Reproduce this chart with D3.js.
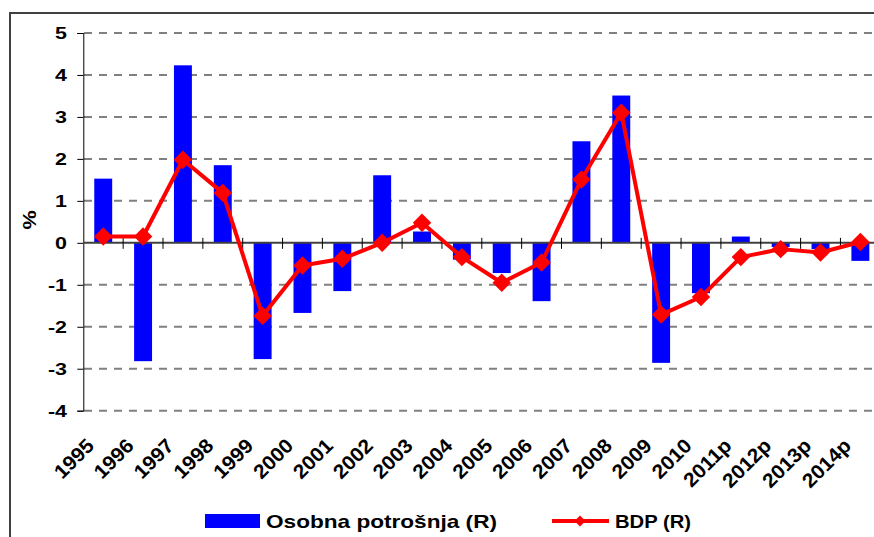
<!DOCTYPE html>
<html>
<head>
<meta charset="utf-8">
<script src="https://cdn.jsdelivr.net/npm/d3@7"></script>
<style>
  body { margin: 0; background: #fff; }
  text { font-family: "Liberation Sans", Arial, sans-serif; font-weight: bold; fill: #000; }
</style>
</head>
<body>
<svg width="874" height="537"></svg>
<script>
// Podaci (procjena iz slike)
const godine = ["1995", "1996", "1997", "1998", "1999", "2000", "2001", "2002", "2003", "2004",
    "2005", "2006", "2007", "2008", "2009", "2010", "2011p", "2012p", "2013p", "2014p"];
const potrosnja = [1.53, -2.82, 4.23, 1.85, -2.77, -1.67, -1.15, 1.61, 0.27, -0.4,
    -0.72, -1.39, 2.42, 3.51, -2.86, -1.2, 0.15, -0.1, -0.15, -0.43];
const bdp = [0.15, 0.15, 1.98, 1.19, -1.74, -0.54, -0.38, 0.0, 0.48, -0.34,
    -0.95, -0.47, 1.51, 3.10, -1.71, -1.29, -0.34, -0.15, -0.23, 0.02];
const yTicks = [5, 4, 3, 2, 1, 0, -1, -2, -3, -4];
const legenda = ["Osobna potrošnja (R)", "BDP (R)"];

const svg = d3.select("svg");

// okvir
svg.append("rect")
    .attr("x", 10).attr("y", 13)
    .attr("width", 900).attr("height", 600)
    .attr("fill", "none")
    .attr("stroke", "#404040")
    .attr("stroke-width", 2);

const x = d3.scaleBand().domain(godine).range([83.3, 880.3]);
const y = d3.scaleLinear().domain([-4, 5]).range([410.7, 33]);

// mreža
svg.append("g")
    .selectAll("line")
    .data(yTicks.filter(d => d !== 0))
    .enter()
    .append("line")
    .attr("x1", 84).attr("x2", 880)
    .attr("y1", d => y(d)).attr("y2", d => y(d))
    .attr("stroke", "#808080")
    .attr("stroke-width", 2)
    .attr("stroke-dasharray", "8,7");

// y os
const yAxis = d3.axisLeft(y).tickValues(yTicks).tickSize(6).tickFormat("");
svg.append("g")
    .attr("transform", "translate(83.3,0)")
    .call(yAxis)
    .call(g => g.selectAll("line, path").attr("stroke", "#000"));

svg.append("g")
    .selectAll("text")
    .data(yTicks)
    .enter()
    .append("text")
    .attr("transform", d => `translate(67,${y(d)}) scale(1.3,1)`)
    .attr("dy", "0.36em")
    .attr("text-anchor", "end")
    .style("font-size", "16.5px")
    .text(d => d);

svg.append("text")
    .attr("transform", "translate(36,220) rotate(-90) scale(1.2,1)")
    .attr("text-anchor", "middle")
    .style("font-size", "18px")
    .text("%");

// stupci
const barW = x.bandwidth() * 0.45;
svg.append("g")
    .selectAll("rect")
    .data(potrosnja)
    .enter()
    .append("rect")
    .attr("x", (d, i) => x(godine[i]) + (x.bandwidth() - barW) / 2)
    .attr("width", barW)
    .attr("y", d => y(Math.max(0, d)))
    .attr("height", d => Math.abs(y(d) - y(0)))
    .attr("fill", "#0000FF");

// x os (nulta linija)
svg.append("line")
    .attr("x1", 83.3).attr("x2", 880)
    .attr("y1", y(0)).attr("y2", y(0))
    .attr("stroke", "#404040")
    .attr("stroke-width", 2);

svg.append("g")
    .selectAll("line")
    .data(godine.slice(1))
    .enter()
    .append("line")
    .attr("x1", d => x(d)).attr("x2", d => x(d))
    .attr("y1", y(0) - 5).attr("y2", y(0) + 6)
    .attr("stroke", "#000")
    .attr("stroke-width", 1);

svg.append("g")
    .selectAll("text")
    .data(godine)
    .enter()
    .append("text")
    .attr("transform", d => `translate(${x(d) + x.bandwidth() / 2 - 8},447) rotate(-45) scale(1.05,1)`)
    .attr("text-anchor", "end")
    .style("font-size", "20px")
    .text(d => d);

// linija BDP
const linija = d3.line()
    .x((d, i) => x(godine[i]) + x.bandwidth() / 2)
    .y(d => y(d));

svg.append("path")
    .datum(bdp)
    .attr("d", linija)
    .attr("fill", "none")
    .attr("stroke", "#FF0000")
    .attr("stroke-width", 4)
    .attr("stroke-linejoin", "round");

const romb = d3.symbol().type(d3.symbolSquare).size(170);
svg.append("g")
    .selectAll("path")
    .data(bdp)
    .enter()
    .append("path")
    .attr("d", romb)
    .attr("transform", (d, i) => `translate(${x(godine[i]) + x.bandwidth() / 2},${y(d)}) rotate(45)`)
    .attr("fill", "#FF0000");

// legenda
svg.append("rect")
    .attr("x", 205).attr("y", 514)
    .attr("width", 55).attr("height", 14)
    .attr("fill", "#0000FF");

svg.append("text")
    .attr("x", 266).attr("y", 528)
    .attr("textLength", 231)
    .attr("lengthAdjust", "spacingAndGlyphs")
    .style("font-size", "19px")
    .text(legenda[0]);

svg.append("line")
    .attr("x1", 552).attr("x2", 609)
    .attr("y1", 521).attr("y2", 521)
    .attr("stroke", "#FF0000")
    .attr("stroke-width", 4);

svg.append("path")
    .attr("d", d3.symbol().type(d3.symbolSquare).size(60))
    .attr("transform", "translate(580,521) rotate(45)")
    .attr("fill", "#FF0000");

svg.append("text")
    .attr("x", 615).attr("y", 528)
    .attr("textLength", 76)
    .attr("lengthAdjust", "spacingAndGlyphs")
    .style("font-size", "19px")
    .text(legenda[1]);
</script>
</body>
</html>
